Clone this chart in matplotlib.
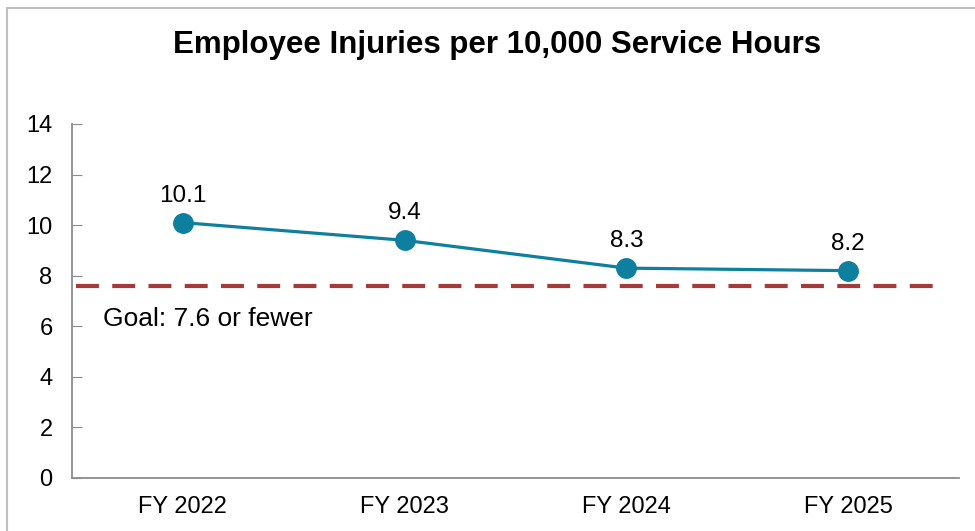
import matplotlib
matplotlib.use('Agg')
import matplotlib.pyplot as plt
from matplotlib.patches import Rectangle

# Données
years = ['FY 2022', 'FY 2023', 'FY 2024', 'FY 2025']
injuries = [10.1, 9.4, 8.3, 8.2]
goal = 7.6
y_ticks = [0, 2, 4, 6, 8, 10, 12, 14]

plt.rcParams['font.family'] = ['Liberation Sans', 'DejaVu Sans']

fig = plt.figure(figsize=(9.75, 5.31), dpi=100)
ax = fig.add_axes([72 / 975, 1 - 478 / 531, 887 / 975, 354 / 531])

# Cadre gris autour du graphique
fig.patches.append(Rectangle((7 / 975, -0.05), 1.05, 1 - 8 / 531 + 0.05,
                             transform=fig.transFigure, fill=False,
                             edgecolor='#BFBFBF', linewidth=1.5))

x = list(range(len(years)))

# Ligne d'objectif
ax.plot([-0.482, 3.405], [goal, goal], color='#A33B3B', linewidth=3,
        linestyle=(0, (5.5, 3.2)), zorder=1)
ax.text(-0.36, 6.3, 'Goal: 7.6 or fewer', fontsize=19, va='center', ha='left')

# Série principale
ax.plot(x, injuries, color='#0F7FA0', linewidth=2.3, marker='o',
        markersize=14, zorder=3)
for xi, v in zip(x, injuries):
    ax.annotate(f'{v}', (xi, v), xytext=(0, 15), textcoords='offset points',
                ha='center', va='baseline', fontsize=17.5)

ax.set_xlim(-0.5, 3.5)
ax.set_ylim(0, 14)
ax.set_xticks(x)
ax.set_xticklabels(years, fontsize=17)
ax.set_yticks(y_ticks)
ax.set_yticklabels([str(t) for t in y_ticks], fontsize=17)
ax.tick_params(axis='x', length=0, pad=13)
ax.tick_params(axis='y', direction='in', length=7, color='#8C8C8C', pad=14)

for side in ['top', 'right']:
    ax.spines[side].set_visible(False)
for side in ['left', 'bottom']:
    ax.spines[side].set_color('#8C8C8C')
    ax.spines[side].set_linewidth(1.3)

fig.text(0.51, 1 - 53 / 531, 'Employee Injuries per 10,000 Service Hours',
         ha='center', va='baseline', fontsize=22.5, fontweight='bold')

fig.savefig('out.png', dpi=100)
